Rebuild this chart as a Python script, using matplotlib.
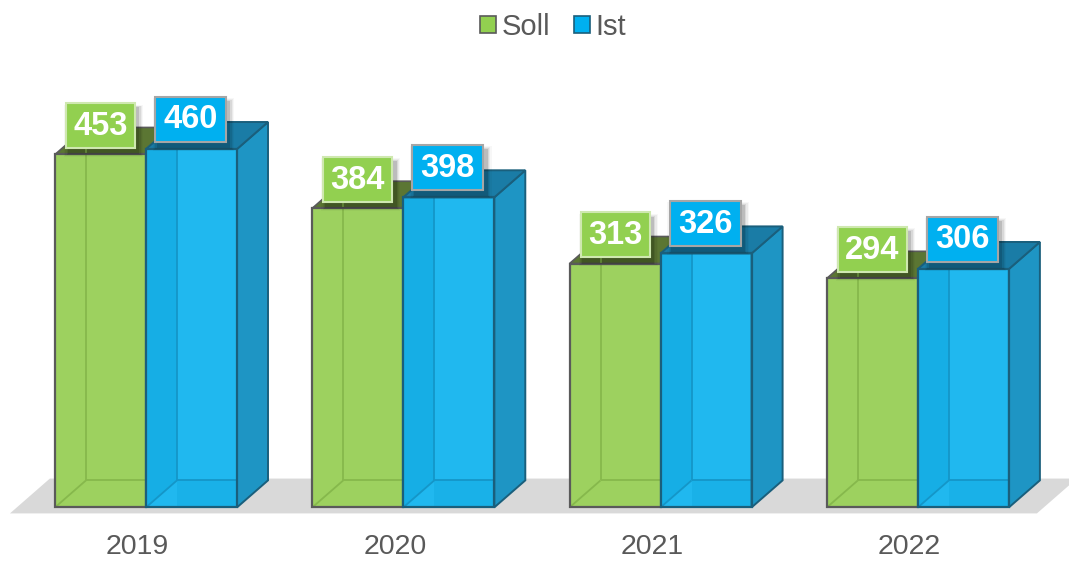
import matplotlib
matplotlib.use("Agg")
import matplotlib.pyplot as plt
from matplotlib.patches import Polygon, Rectangle, Patch

plt.rcParams['font.family'] = ['Liberation Sans', 'DejaVu Sans']

# ---- data ----
years = ["2019", "2020", "2021", "2022"]
soll = [453, 384, 313, 294]
ist = [460, 398, 326, 306]
series_names = ["Soll", "Ist"]

# ---- style ----
W = 0.3537          # bar width (category units)
DX = 0.1205         # depth offset x
DY = 34.7           # depth offset y (value units)
G_FRONT = "#9dd15f"; G_TOP = "#5b7633"; G_EDGE = "#5a5a5a"; G_HID = "#86b84c"
B_FRONT = "#20b8ef"; B_STRIP = "#0ea6dc"; B_SIDE = "#1e95c4"; B_TOP = "#1a7ca6"
B_EDGE = "#1a5f7c"; B_HID = "#1496c8"
TXT = "#595959"

fig = plt.figure(figsize=(10.69, 5.61), dpi=100)
ax = fig.add_axes([0, 0, 1, 1])
ax.set_xlim(-0.5674, 3.5873)
ax.set_ylim(-68.8, 651.3)
ax.axis("off")

n = len(years)
# floor
fx0 = 0 - W - 0.175
fx1 = (n - 1) + W + 0.109
fdx = 0.155
ax.add_patch(Polygon([(fx0, -7.7), (fx1, -7.7), (fx1 + fdx, 37), (fx0 + fdx, 37)],
                     closed=True, facecolor="#d9d9d9", edgecolor="none", zorder=1))


def poly(pts, fc, ec="none", lw=0, alpha=1.0, z=2):
    ax.add_patch(Polygon(pts, closed=True, facecolor=fc, edgecolor=ec, linewidth=lw,
                         alpha=alpha, zorder=z, joinstyle="miter"))


def line(xs, ys, c, lw=1.2, alpha=1.0, z=3):
    ax.plot(xs, ys, color=c, lw=lw, alpha=alpha, zorder=z, solid_capstyle="butt")


def label(xc, yc, text, fc, ec, w):
    h = 57.8
    # soft shadow
    for k, a in enumerate([0.12, 0.08, 0.05, 0.03]):
        e = 0.005 * (k + 1)
        ax.add_patch(Rectangle((xc - w / 2 + 0.012 - e, yc - h / 2 - 7 - e * 250), w + 2 * e,
                               h + 2 * e * 250, facecolor="black", edgecolor="none",
                               alpha=a, zorder=8))
    ax.add_patch(Rectangle((xc - w / 2, yc - h / 2), w, h, facecolor=fc, edgecolor=ec,
                           linewidth=1.5, zorder=9))
    ax.text(xc, yc - 1, text, ha="center", va="center", color="white", fontsize=23.5,
            fontweight="bold", zorder=10)


for i in range(n):
    # ---- green (Soll) ----
    x0, x1, t = i - W, i, soll[i]
    poly([(x0, t), (x1, t), (x1 + DX, t + DY), (x0 + DX, t + DY)], G_TOP, G_EDGE, 1.2, z=2)
    poly([(x0, 0), (x1, 0), (x1, t), (x0, t)], G_FRONT, "none", 0, z=3)
    line([x0 + DX, x0 + DX], [DY, t + DY], G_HID, 1.3, z=3.5)
    line([x0 + DX, x1], [DY, DY], G_HID, 1.3, z=3.5)
    line([x0, x0 + DX], [0, DY], G_HID, 1.3, z=3.5)
    poly([(x0, 0), (x1, 0), (x1, t), (x0, t)], "none", G_EDGE, 1.6, z=4)

    # ---- blue (Ist) ----
    x0, x1, t = i, i + W, ist[i]
    poly([(x0, 0), (x1, 0), (x1, t), (x0, t)], B_FRONT, "none", 0, z=5)
    poly([(x0, 0), (x0 + DX, DY), (x0 + DX, t), (x0, t)], B_STRIP, alpha=0.5, z=5.1)
    poly([(x0 + DX, 0), (x1, 0), (x1, DY), (x0 + DX, DY)], B_STRIP, alpha=0.35, z=5.1)
    line([x0 + DX, x0 + DX], [DY, t], B_HID, 1.3, z=5.2)
    line([x0 + DX, x1], [DY, DY], B_HID, 1.3, z=5.2)
    line([x0, x0 + DX], [0, DY], B_HID, 1.3, z=5.2)
    poly([(x1, 0), (x1 + DX, DY), (x1 + DX, t + DY), (x1, t)], B_SIDE, B_EDGE, 1.4, z=5.3)
    poly([(x0, t), (x1, t), (x1 + DX, t + DY), (x0 + DX, t + DY)], B_TOP, B_EDGE, 1.4, z=5.4)
    poly([(x0, 0), (x1, 0), (x1, t), (x0, t)], "none", B_EDGE, 1.6, z=5.5)

    # ---- value labels ----
    label(i - W / 2, soll[i] + 37.2, str(soll[i]), "#92d050", "#cfe8b0", 0.268)
    label(i + W / 2 - 0.004, ist[i] + 38.5, str(ist[i]), "#00b0f0", "#a6a6a6", 0.276)

    # ---- category label ----
    ax.text(i - 0.033, -59.5, years[i], ha="center", va="baseline", fontsize=20.5, color=TXT)

handles = [Patch(facecolor="#92d050", edgecolor=G_EDGE, linewidth=1.2),
           Patch(facecolor="#00b0f0", edgecolor=B_EDGE, linewidth=1.2)]
leg = fig.legend(handles, series_names, loc="center", bbox_to_anchor=(553 / 1069, 1 - 27 / 561),
                 ncol=2, frameon=False, fontsize=21, handlelength=0.55, handleheight=0.55,
                 handletextpad=0.2, columnspacing=0.8, borderpad=0)
for t in leg.get_texts():
    t.set_color(TXT)

fig.savefig("out.png", dpi=100)
